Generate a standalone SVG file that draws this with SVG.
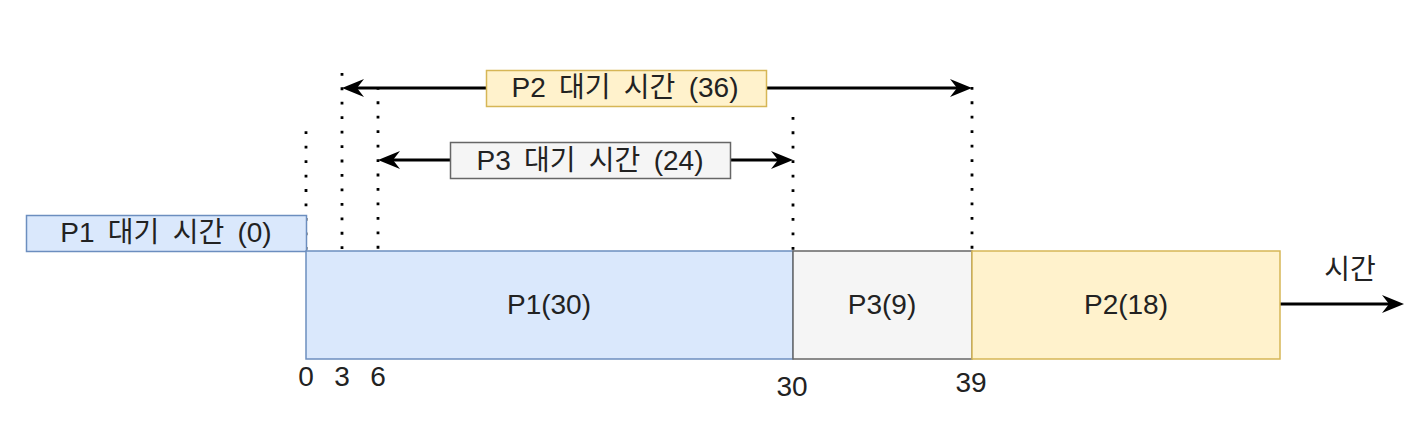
<svg xmlns="http://www.w3.org/2000/svg" width="1420" height="442" viewBox="0 0 1420 442">
<style>
text{font-family:"Liberation Sans","Noto Sans CJK KR",Arial,sans-serif;font-size:28px;fill:#222;text-anchor:middle}
.ko{word-spacing:5.5px}
.blue{fill:#dae8fc;stroke:#6c8ebf;stroke-width:1.5}
.gray{fill:#f5f5f5;stroke:#666666;stroke-width:1.5}
.yel{fill:#fff2cc;stroke:#d6b656;stroke-width:1.5}
.dot{stroke:#000;stroke-width:2.8;stroke-dasharray:2.8 11.65;fill:none}
.arr{stroke:#000;stroke-width:2.8;fill:none}
</style>
<defs>
<marker id="ah" markerUnits="userSpaceOnUse" markerWidth="24" markerHeight="20" viewBox="0 -10 24 20" refX="7" refY="0" orient="auto-start-reverse" overflow="visible">
<path d="M0,-9 L22,0 L0,9 L7,0 Z" fill="#000"/>
</marker>
</defs>
<g id="guides">
<line class="dot" x1="306" y1="131.3" x2="306" y2="251"/>
<line class="dot" x1="342" y1="72.9" x2="342" y2="251"/>
<line class="dot" x1="378" y1="86.9" x2="378" y2="251"/>
<line class="dot" x1="793" y1="116.9" x2="793" y2="251"/>
<line class="dot" x1="972" y1="86.9" x2="972" y2="251"/>
</g>
<g id="connectors">
<line class="arr" x1="357" y1="88" x2="957" y2="88" marker-start="url(#ah)" marker-end="url(#ah)"/>
<line class="arr" x1="393" y1="160" x2="778" y2="160" marker-start="url(#ah)" marker-end="url(#ah)"/>
<line class="arr" x1="1280" y1="304" x2="1389" y2="304" marker-end="url(#ah)"/>
</g>
<g id="p1wait">
<rect class="blue" x="26.5" y="215.5" width="280" height="36"/>
<text class="ko" x="166" y="242">P1 대기 시간 (0)</text>
</g>
<g id="p2wait">
<rect class="yel" x="486.5" y="70.5" width="280" height="36"/>
<text class="ko" x="625" y="97">P2 대기 시간 (36)</text>
</g>
<g id="p3wait">
<rect class="gray" x="450.5" y="142.5" width="280" height="36"/>
<text class="ko" x="590" y="170">P3 대기 시간 (24)</text>
</g>
<g id="p1">
<rect class="blue" x="306" y="251" width="487" height="108"/>
<text x="549" y="314">P1(30)</text>
</g>
<g id="p3">
<rect class="gray" x="793" y="251" width="179" height="108"/>
<text x="882" y="314">P3(9)</text>
</g>
<g id="p2">
<rect class="yel" x="972" y="251" width="308" height="108"/>
<text x="1126" y="314">P2(18)</text>
</g>
<g id="labels">
<text x="306" y="386">0</text>
<text x="342" y="386">3</text>
<text x="378" y="386">6</text>
<text x="792" y="396">30</text>
<text x="971" y="392">39</text>
<text x="1350" y="279">시간</text>
</g>
</svg>
